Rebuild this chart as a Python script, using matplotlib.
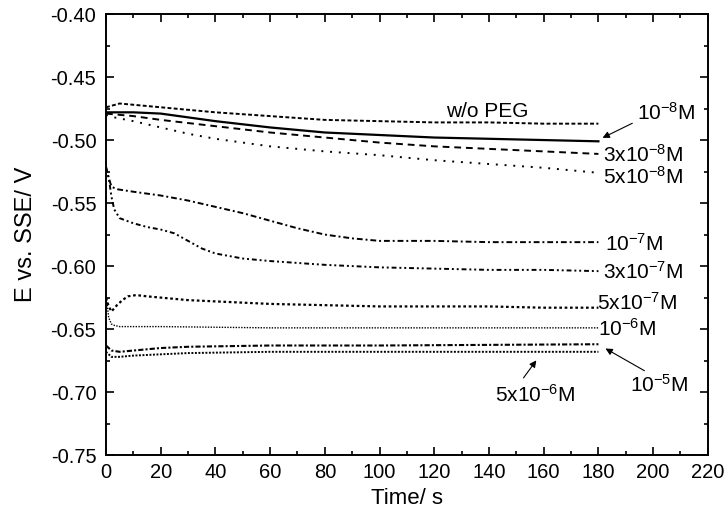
import matplotlib
matplotlib.use("Agg")
import matplotlib.pyplot as plt
from matplotlib.ticker import MultipleLocator, FormatStrFormatter

plt.rcParams["font.family"] = ["Liberation Sans", "DejaVu Sans"]
plt.rcParams["mathtext.default"] = "regular"

# potential transients (time / s, E / V)
t_nopeg = [0, 5, 10, 20, 40, 60, 80, 100, 120, 140, 160, 180]
e_nopeg = [-0.474, -0.471, -0.472, -0.474, -0.478, -0.481, -0.484, -0.485, -0.486, -0.486, -0.487, -0.487]

t_1e8 = [0, 10, 20, 40, 60, 80, 100, 120, 140, 160, 180]
e_1e8 = [-0.478, -0.478, -0.479, -0.485, -0.490, -0.494, -0.496, -0.498, -0.499, -0.500, -0.501]

t_3e8 = [0, 10, 20, 40, 60, 80, 100, 120, 140, 160, 180]
e_3e8 = [-0.479, -0.481, -0.484, -0.489, -0.494, -0.498, -0.502, -0.505, -0.507, -0.509, -0.511]

t_5e8 = [0, 3, 10, 20, 30, 40, 60, 80, 100, 120, 140, 160, 180]
e_5e8 = [-0.480, -0.482, -0.485, -0.490, -0.495, -0.499, -0.505, -0.509, -0.512, -0.516, -0.519, -0.522, -0.526]

t_1e7 = [0, 1, 2, 4, 10, 20, 30, 40, 50, 60, 70, 80, 90, 100, 120, 140, 160, 180]
e_1e7 = [-0.521, -0.530, -0.537, -0.539, -0.541, -0.544, -0.548, -0.553, -0.558, -0.564,
         -0.570, -0.575, -0.578, -0.580, -0.580, -0.581, -0.581, -0.581]

t_3e7 = [0, 1, 2, 3, 5, 10, 15, 20, 25, 30, 35, 40, 50, 60, 80, 100, 120, 140, 160, 180]
e_3e7 = [-0.522, -0.530, -0.545, -0.555, -0.562, -0.566, -0.569, -0.571, -0.574, -0.580,
         -0.586, -0.590, -0.594, -0.596, -0.599, -0.601, -0.602, -0.603, -0.603, -0.604]

t_5e7 = [0, 1, 2, 4, 6, 8, 11, 15, 20, 30, 40, 60, 80, 100, 140, 160, 180]
e_5e7 = [-0.625, -0.632, -0.636, -0.631, -0.627, -0.624, -0.623, -0.624, -0.625, -0.627,
         -0.628, -0.630, -0.631, -0.632, -0.632, -0.633, -0.633]

t_1e6 = [0, 0.5, 1, 2, 3, 5, 20, 60, 100, 140, 180]
e_1e6 = [-0.622, -0.632, -0.641, -0.646, -0.647, -0.648, -0.648, -0.649, -0.649, -0.649, -0.649]

t_1e5 = [0, 2, 5, 10, 20, 30, 60, 100, 180]
e_1e5 = [-0.663, -0.667, -0.668, -0.667, -0.665, -0.664, -0.663, -0.663, -0.662]

t_5e6 = [0, 2, 5, 10, 20, 30, 60, 100, 180]
e_5e6 = [-0.668, -0.672, -0.672, -0.671, -0.670, -0.669, -0.668, -0.668, -0.668]

fig = plt.figure(figsize=(7.26, 5.19), dpi=100)
ax = fig.add_axes([0.146, 0.123, 0.829, 0.850])

ax.plot(t_nopeg, e_nopeg, color="k", lw=1.4, ls=(0, (2, 1.2)))
ax.plot(t_1e8, e_1e8, color="k", lw=1.6, ls="-")
ax.plot(t_3e8, e_3e8, color="k", lw=1.4, ls=(0, (3.5, 2.5)))
ax.plot(t_5e8, e_5e8, color="k", lw=1.4, ls=(0, (1, 3.5)))
ax.plot(t_1e7, e_1e7, color="k", lw=1.4, ls=(0, (3, 1.5, 1, 1.5)))
ax.plot(t_3e7, e_3e7, color="k", lw=1.4, ls=(0, (2.5, 1.5, 1, 1.5, 1, 1.5)))
ax.plot(t_5e7, e_5e7, color="k", lw=1.6, ls=(0, (1.2, 1.2)))
ax.plot(t_1e6, e_1e6, color="k", lw=1.0, ls=(0, (1, 1)))
ax.plot(t_1e5, e_1e5, color="k", lw=1.5, ls=(0, (2.5, 1, 1, 1)))
ax.plot(t_5e6, e_5e6, color="k", lw=1.4, ls=(0, (1, 0.8)))

ax.set_xlim(0, 220)
ax.set_ylim(-0.75, -0.40)
ax.xaxis.set_major_locator(MultipleLocator(20))
ax.xaxis.set_minor_locator(MultipleLocator(10))
ax.yaxis.set_major_locator(MultipleLocator(0.05))
ax.yaxis.set_minor_locator(MultipleLocator(0.025))
ax.yaxis.set_major_formatter(FormatStrFormatter("%.2f"))
ax.tick_params(which="both", direction="in", top=True, right=True, width=1.2)
ax.tick_params(which="major", length=6, labelsize=14.5)
ax.tick_params(which="minor", length=3)
ax.tick_params(axis="y", which="major", pad=7)
ax.tick_params(axis="x", which="major", pad=6)
for s in ax.spines.values():
    s.set_linewidth(1.4)

ax.set_xlabel("Time/ s", fontsize=16, labelpad=4)
ax.set_ylabel("E vs. SSE/ V", fontsize=17, labelpad=10)

fs = 15
ax.text(139.3, -0.477, "w/o PEG", fontsize=fs, ha="center", va="center")
ax.text(194, -0.4786, "10$^{-8}$M", fontsize=fs, va="center")
ax.annotate("", xy=(180.6, -0.4992), xytext=(193.3, -0.4857),
            arrowprops=dict(arrowstyle="-|>", color="k", lw=0.8, mutation_scale=10))
ax.text(181.7, -0.512, "3x10$^{-8}$M", fontsize=fs, va="center")
ax.text(181.7, -0.5294, "5x10$^{-8}$M", fontsize=fs, va="center")
ax.text(182.4, -0.5825, "10$^{-7}$M", fontsize=fs, va="center")
ax.text(181.7, -0.6048, "3x10$^{-7}$M", fontsize=fs, va="center")
ax.text(179.5, -0.6294, "5x10$^{-7}$M", fontsize=fs, va="center")
ax.text(179.8, -0.650, "10$^{-6}$M", fontsize=fs, va="center")
ax.text(191.5, -0.6945, "10$^{-5}$M", fontsize=fs, va="center")
ax.annotate("", xy=(181.7, -0.6643), xytext=(197.7, -0.6841),
            arrowprops=dict(arrowstyle="-|>", color="k", lw=0.8, mutation_scale=10))
ax.text(142.2, -0.7024, "5x10$^{-6}$M", fontsize=fs, va="center")
ax.annotate("", xy=(157.9, -0.673), xytext=(152, -0.6905),
            arrowprops=dict(arrowstyle="-|>", color="k", lw=0.8, mutation_scale=10))

fig.savefig("out.png", dpi=100)
